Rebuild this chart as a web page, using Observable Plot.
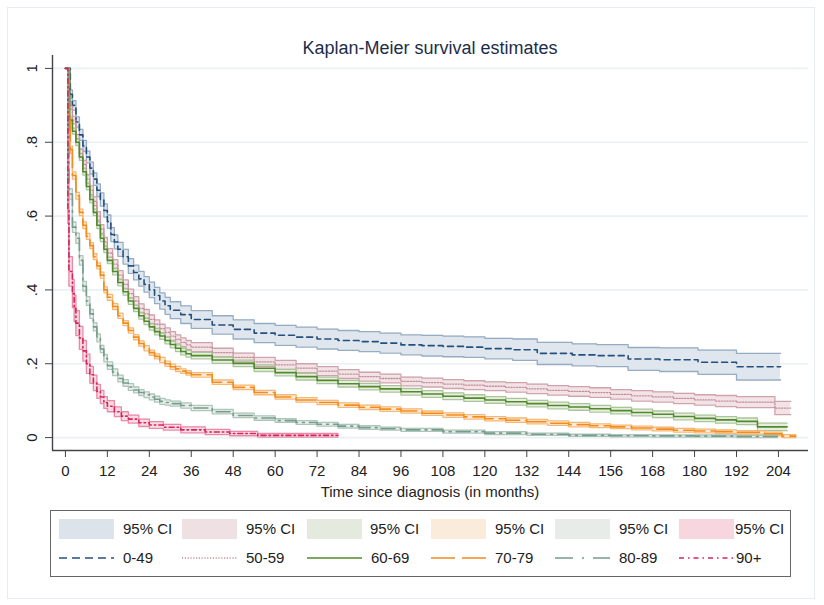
<!DOCTYPE html>
<html><head><meta charset="utf-8">
<script src="https://cdn.jsdelivr.net/npm/d3@7"></script>
<script src="https://cdn.jsdelivr.net/npm/@observablehq/plot@0.6"></script>
<style>
body{margin:0;background:#fff;font-family:"Liberation Sans",Arial,sans-serif;}
#wrap{position:relative;width:824px;height:605px;overflow:hidden;background:#fff;}
#frame{position:absolute;left:7px;top:7px;width:808px;height:592px;border:1px solid #e6ecf0;box-sizing:border-box;}
#chart{position:absolute;left:0;top:0;}
#title{position:absolute;left:52px;width:756px;top:38px;text-align:center;font-size:18px;color:#1c2d4a;}
#xlabel{position:absolute;left:52px;width:756px;top:483px;text-align:center;font-size:15px;color:#222;}
#legend{position:absolute;left:50px;top:510px;width:741px;height:67px;border:1.5px solid #666;box-sizing:border-box;}
.sw{position:absolute;width:55px;height:20px;}
.lt{position:absolute;font-size:15px;color:#222;line-height:18px;white-space:nowrap;}
.ls{position:absolute;width:55px;height:6px;}
</style></head><body>
<div id="wrap">
 <div id="frame"></div>
 <div id="chart"></div>
 <div id="title">Kaplan-Meier survival estimates</div>
 <div id="xlabel">Time since diagnosis (in months)</div>
 <div id="legend"></div>
</div>
<script>
// ---- data ----
const groups = ["0-49", "50-59", "60-69", "70-79", "80-89", "90+"];

const t049 = [0,1.4,2,3,4,5,6,7,8,9,10,11,12,13,14,15,16.5,18,19.5,21,22.5,24,25.5,27,28.5,30,33,36,42,48,54,60,66,72,78,84,90,96,102,108,114,120,128,135,145,152,161,170,181,192,204.6];
const s049 = [1,.93,.90,.855,.82,.79,.76,.73,.70,.67,.645,.615,.585,.55,.53,.51,.49,.465,.447,.43,.415,.40,.385,.37,.357,.345,.333,.32,.305,.293,.283,.277,.272,.267,.263,.26,.256,.251,.249,.247,.245,.241,.238,.228,.224,.222,.213,.211,.204,.192,.192];
const h049 = [0,.012,.013,.014,.015,.015,.016,.016,.017,.017,.018,.018,.018,.019,.019,.019,.02,.02,.02,.02,.021,.021,.022,.022,.023,.023,.024,.024,.025,.026,.026,.027,.027,.027,.027,.027,.027,.027,.028,.028,.028,.028,.029,.03,.03,.03,.031,.032,.033,.036,.036];

const t5059 = [0,1.2,2,3,4,5,6,7,8,9,10,11,12,13.5,15,16.5,18,19.5,21,22.5,24,25.5,27,28.5,30,31.5,33,34.5,36,42,48,54,60,66,72,78,84,90,96,102,108,114,120,126,132,138,144,150,156,162,168,174,180,186,192,203,207.5];
const s5059 = [1,.90,.86,.81,.77,.74,.70,.67,.64,.60,.565,.53,.50,.47,.44,.415,.39,.37,.35,.335,.32,.307,.295,.285,.275,.266,.258,.251,.245,.23,.217,.205,.197,.188,.18,.172,.165,.16,.152,.149,.145,.142,.139,.136,.132,.128,.125,.122,.117,.113,.11,.106,.102,.099,.096,.08,.08];
const h5059 = [0,.01,.01,.011,.011,.011,.012,.012,.012,.012,.012,.012,.012,.012,.012,.012,.012,.012,.012,.012,.012,.012,.012,.012,.012,.012,.012,.012,.012,.012,.012,.012,.012,.012,.012,.012,.012,.012,.012,.012,.012,.012,.012,.013,.013,.013,.013,.013,.013,.014,.014,.014,.014,.015,.015,.018,.018];

const t6069 = [0,1.2,2,3,4,5,6,7,8,9,10,11,12,13.5,15,16.5,18,19.5,21,22.5,24,25.5,27,28.5,30,31.5,33,34.5,36,42,48,54,60,66,72,78,84,90,96,102,108,114,120,126,132,138,144,150,156,162,168,174,180,186,192,198,206.5];
const s6069 = [1,.86,.83,.80,.76,.72,.68,.645,.61,.575,.54,.51,.48,.45,.42,.395,.37,.35,.33,.315,.30,.287,.275,.263,.252,.242,.233,.227,.222,.21,.201,.188,.176,.165,.155,.146,.138,.132,.124,.118,.112,.107,.102,.097,.092,.087,.083,.078,.073,.068,.063,.057,.052,.048,.044,.029,.029];
const h6069 = [0,.008,.008,.009,.009,.009,.009,.009,.009,.009,.009,.009,.009,.009,.009,.009,.009,.009,.009,.009,.009,.009,.009,.009,.009,.009,.009,.009,.009,.009,.009,.009,.009,.009,.009,.009,.009,.009,.009,.009,.009,.009,.009,.009,.009,.009,.009,.009,.009,.009,.009,.009,.009,.009,.009,.01,.01];

const t7079 = [0,1,1.4,2,3,4,5,6,7,8,9,10,11,12,13.5,15,16.5,18,19.5,21,22.5,24,25.5,27,28.5,30,31.5,33,34.5,36,42,48,54,60,66,72,78,84,90,96,102,108,114,120,126,132,138,144,150,156,162,168,174,180,186,192,200,205,209];
const s7079 = [1,.86,.78,.71,.655,.61,.575,.545,.52,.49,.465,.44,.40,.38,.355,.33,.31,.29,.272,.255,.242,.23,.22,.21,.20,.192,.186,.18,.175,.17,.15,.136,.122,.11,.102,.095,.088,.082,.077,.072,.066,.061,.056,.051,.047,.043,.039,.035,.032,.029,.026,.023,.02,.018,.016,.014,.01,.004,.004];
const h7079 = [0,.01,.01,.01,.009,.009,.009,.008,.008,.008,.008,.008,.008,.008,.008,.007,.007,.007,.007,.007,.007,.007,.007,.007,.007,.007,.007,.006,.006,.006,.006,.006,.006,.006,.006,.006,.006,.006,.006,.006,.006,.006,.006,.006,.006,.006,.006,.006,.005,.005,.005,.005,.005,.005,.005,.005,.005,.004,.004];

const t8089 = [0,1,2,3,4,5,6,7,8,9,10,11,12,13.5,15,16.5,18,19.5,21,22.5,24,25.5,27,28.5,30,33,36,42,48,54,60,66,72,78,84,90,96,108,120,132,144,156,168,180,192,203.7];
const s8089 = [1,.66,.57,.54,.48,.41,.37,.335,.30,.27,.24,.215,.195,.177,.16,.148,.137,.129,.122,.116,.11,.104,.098,.095,.092,.087,.08,.07,.06,.053,.046,.041,.036,.031,.027,.024,.021,.016,.012,.009,.006,.005,.0045,.004,.003,.003];
const h8089 = [0,.014,.014,.014,.013,.013,.012,.012,.011,.011,.01,.01,.01,.009,.009,.009,.009,.008,.008,.008,.008,.008,.008,.007,.007,.007,.007,.006,.006,.006,.005,.005,.005,.005,.005,.004,.004,.004,.004,.003,.003,.003,.003,.003,.003,.003];

const t90 = [0,0.7,1,2,2.5,3,4,5,6,7,8,9,10,11,12,14,16,18,21,24,28,33,40,47,55,78];
const s90 = [1,.62,.45,.39,.35,.31,.27,.235,.20,.17,.148,.125,.11,.095,.085,.07,.058,.05,.04,.034,.028,.021,.015,.011,.006,.006];
const h90 = [0,.04,.04,.038,.036,.034,.031,.028,.026,.023,.021,.019,.018,.016,.015,.013,.012,.011,.01,.009,.008,.008,.007,.006,.005,.005];

const xTicks = [0,12,24,36,48,60,72,84,96,108,120,132,144,156,168,180,192,204];
const yTicks = [0,0.2,0.4,0.6,0.8,1];
const legendCI = "95% CI";

// ---- styles ----
const lineColors = ["#24507e","#c48f98","#4f8a2b","#f28c1c","#779c8c","#d8245c"];
const fillColors = ["#dde3eb","#efe0e3","#e5eade","#fbebdb","#e7ece9","#f7d6e0"];
const edgeColors = ["#95acc4","#d0a3aa","#abc59a","#f7b873","#adc6ba","#e88aa7"];
const dashes = ["6,4","1.2,1.6","none","22,6","14,5,2,5","5,3,1.5,3"];

const series = [[t049,s049,h049],[t5059,s5059,h5059],[t6069,s6069,h6069],[t7079,s7079,h7079],[t8089,s8089,h8089],[t90,s90,h90]];
const rows = [];
series.forEach(([t,s,h],gi) => t.forEach((tt,i) => rows.push({g: groups[gi], gi, t: tt, s: s[i], lo: Math.max(0, s[i]-h[i]), hi: Math.min(1, s[i]+h[i])})));

const xDomain = [-3.7, 212.6];
const yDomain = [-0.035, 1.035];
const fmt = d => d === 0 ? "0" : d === 1 ? "1" : String(+d.toFixed(1)).replace("0.", ".");

const marks = [
  Plot.gridY(yTicks, {stroke: "#eaf0f4", strokeOpacity: 1, strokeWidth: 1.6}),
];
groups.forEach((g,gi) => {
  const d = rows.filter(r => r.gi === gi);
  marks.push(Plot.areaY(d, {x: "t", y1: "lo", y2: "hi", fill: fillColors[gi], fillOpacity: 0.9, curve: "step-after"}));
});
groups.forEach((g,gi) => {
  const d = rows.filter(r => r.gi === gi);
  marks.push(Plot.lineY(d, {x: "t", y: "hi", stroke: edgeColors[gi], strokeWidth: 1.3, curve: "step-after"}));
  marks.push(Plot.lineY(d, {x: "t", y: "lo", stroke: edgeColors[gi], strokeWidth: 1.3, curve: "step-after"}));
});
groups.forEach((g,gi) => {
  const d = rows.filter(r => r.gi === gi);
  marks.push(Plot.lineY(d, {x: "t", y: "s", stroke: lineColors[gi], strokeWidth: gi === 1 ? 1.3 : 1.6, strokeDasharray: dashes[gi], curve: "step-after"}));
});
marks.push(
  Plot.ruleX([xDomain[0]], {stroke: "#444", strokeWidth: 1.4}),
  Plot.ruleY([yDomain[0]], {stroke: "#444", strokeWidth: 1.4}),
  Plot.axisX(xTicks, {tickSize: 7, tickPadding: 8, fontSize: 15, fill: "#222", stroke: "#444", label: null}),
  Plot.axisY(yTicks, {tickSize: 7, tickFormat: () => "", stroke: "#444", label: null}),
  Plot.text(yTicks, {y: d => d, frameAnchor: "left", dx: -20, rotate: -90, text: fmt, fontSize: 15, fill: "#222", textAnchor: "middle"})
);

const chart = Plot.plot({
  width: 824, height: 505,
  marginLeft: 52, marginRight: 16, marginTop: 55, marginBottom: 55,
  x: {domain: xDomain},
  y: {domain: yDomain},
  style: {fontFamily: "'Liberation Sans', Arial, sans-serif", fontSize: "15px", background: "transparent", overflow: "visible"},
  marks
});
document.getElementById("chart").appendChild(chart);

// ---- legend ----
const wrap = document.getElementById("wrap");
const swX = [59,182,307,431,555,679];
const txOff = [64,64,63,64,64,56];
groups.forEach((g,gi) => {
  const sw = document.createElement("div");
  sw.className = "sw"; sw.style.left = swX[gi]+"px"; sw.style.top = "519px"; sw.style.background = fillColors[gi];
  wrap.appendChild(sw);
  const t1 = document.createElement("div");
  t1.className = "lt"; t1.style.left = (swX[gi]+txOff[gi])+"px"; t1.style.top = "520px"; t1.textContent = legendCI;
  wrap.appendChild(t1);
  const ns = "http://www.w3.org/2000/svg";
  const svg = document.createElementNS(ns, "svg");
  svg.setAttribute("class","ls"); svg.setAttribute("width","55"); svg.setAttribute("height","6");
  svg.style.left = swX[gi]+"px"; svg.style.top = "555px";
  const ln = document.createElementNS(ns, "line");
  ln.setAttribute("x1","0"); ln.setAttribute("x2","55"); ln.setAttribute("y1","3"); ln.setAttribute("y2","3");
  ln.setAttribute("stroke", lineColors[gi]); ln.setAttribute("stroke-width", gi===1 ? "1.3" : "1.7");
  const la = {0:"8,5",1:"1.2,1.6",2:"none",3:"24,7",4:"18,9,2,9",5:"5,4,1.5,4"}[gi];
  if (la !== "none") ln.setAttribute("stroke-dasharray", la);
  svg.appendChild(ln); wrap.appendChild(svg);
  const t2 = document.createElement("div");
  t2.className = "lt"; t2.style.left = (swX[gi]+64 + (gi===5?-7:0))+"px"; t2.style.top = "549px"; t2.textContent = g;
  wrap.appendChild(t2);
});
</script>
</body></html>
